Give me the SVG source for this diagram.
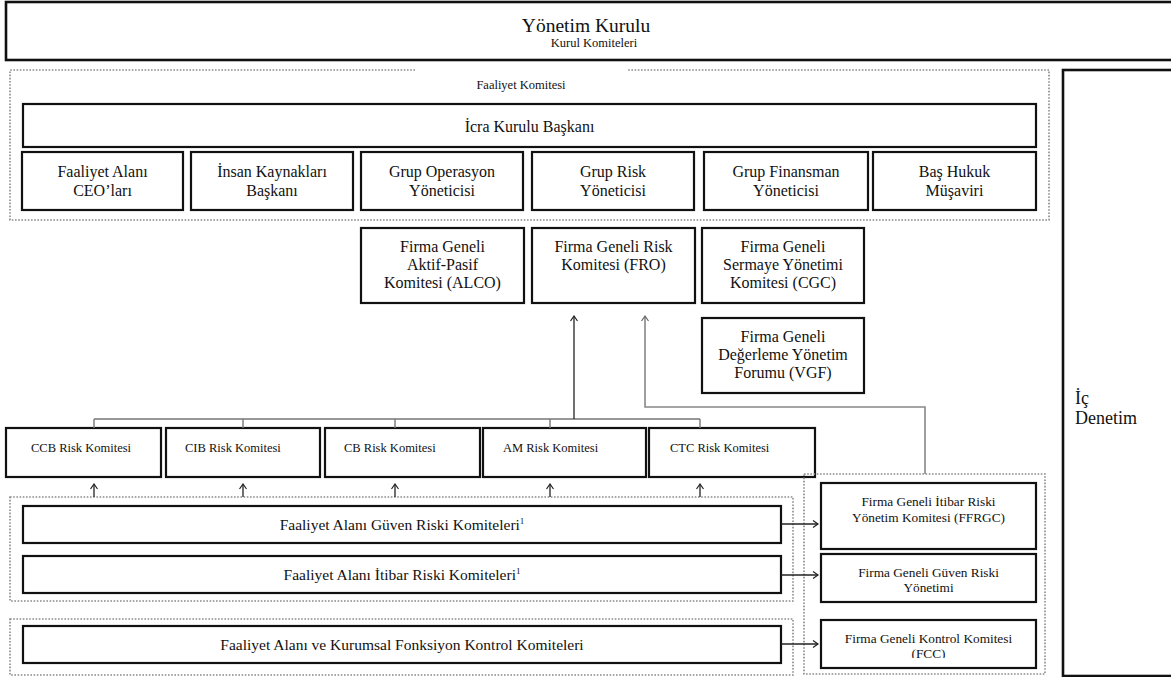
<svg xmlns="http://www.w3.org/2000/svg" width="1171" height="677" viewBox="0 0 1171 677">
<style>
text{font-family:"Liberation Serif","Times New Roman","DejaVu Serif",serif;fill:#111;}
.box{fill:#fff;stroke:#111;stroke-width:2.2;}
.big{stroke-width:2.6;}
.dot{fill:none;stroke:#8a8a8a;stroke-width:1.6;stroke-dasharray:1.6 1.6;}
.t16{font-size:16px;text-anchor:middle;}
.t13{font-size:13.3px;text-anchor:middle;}
.t12{font-size:12.5px;}
.con{fill:none;stroke:#222;stroke-width:1.3;}
.grey{fill:none;stroke:#888;stroke-width:1.6;}
.hl{fill:none;stroke:#777;stroke-width:1.4;}
</style>
<defs>
<marker id="ah" markerWidth="10" markerHeight="10" refX="6" refY="4" orient="auto" markerUnits="userSpaceOnUse">
<path d="M1,0.5 L6,4 L1,7.5" fill="none" stroke="#222" stroke-width="1.2"/>
</marker>
<marker id="ahg" markerWidth="10" markerHeight="10" refX="6" refY="4" orient="auto" markerUnits="userSpaceOnUse">
<path d="M1,0.5 L6,4 L1,7.5" fill="none" stroke="#666" stroke-width="1.2"/>
</marker>
<clipPath id="fccclip"><rect x="821" y="620" width="215" height="38"/></clipPath>
</defs>

<g id="yonetim-kurulu">
<rect class="box big" x="6" y="2" width="1180" height="58"/>
<text x="586" y="32" style="font-size:19.5px;text-anchor:middle">Yönetim Kurulu</text>
<text x="594" y="47" style="font-size:12.5px;text-anchor:middle">Kurul Komiteleri</text>
</g>

<g id="ic-denetim">
<rect class="box big" x="1063" y="70" width="120" height="606"/>
<text x="1075" y="404" style="font-size:18px">İç</text>
<text x="1075" y="424" style="font-size:18px">Denetim</text>
</g>

<g id="faaliyet-komitesi">
<path class="dot" d="M415,70 H10 V220 H1049 V70 H627"/>
<text x="521" y="89" style="font-size:12.5px;text-anchor:middle">Faaliyet Komitesi</text>
</g>

<g id="icra-kurulu-baskani">
<rect class="box" x="23" y="104" width="1013" height="43"/>
<text class="t16" x="529.5" y="132">İcra Kurulu Başkanı</text>
</g>

<g id="faaliyet-alani-ceo">
<rect class="box" x="22" y="152" width="161" height="58"/>
<text class="t16" x="102.5" y="177">Faaliyet Alanı</text>
<text class="t16" x="102.5" y="196">CEO’ları</text>
</g>
<g id="insan-kaynaklari">
<rect class="box" x="191" y="152" width="162" height="58"/>
<text class="t16" x="272" y="177">İnsan Kaynakları</text>
<text class="t16" x="272" y="196">Başkanı</text>
</g>
<g id="grup-operasyon">
<rect class="box" x="361" y="152" width="162" height="58"/>
<text class="t16" x="442" y="177">Grup Operasyon</text>
<text class="t16" x="442" y="196">Yöneticisi</text>
</g>
<g id="grup-risk">
<rect class="box" x="532" y="152" width="162" height="58"/>
<text class="t16" x="613" y="177">Grup Risk</text>
<text class="t16" x="613" y="196">Yöneticisi</text>
</g>
<g id="grup-finansman">
<rect class="box" x="704" y="152" width="164" height="58"/>
<text class="t16" x="786" y="177">Grup Finansman</text>
<text class="t16" x="786" y="196">Yöneticisi</text>
</g>
<g id="bas-hukuk">
<rect class="box" x="873" y="152" width="163" height="58"/>
<text class="t16" x="954.5" y="177">Baş Hukuk</text>
<text class="t16" x="954.5" y="196">Müşaviri</text>
</g>

<g id="alco">
<rect class="box" x="361" y="228" width="163" height="75"/>
<text class="t16" x="442.5" y="252">Firma Geneli</text>
<text class="t16" x="442.5" y="270">Aktif-Pasif</text>
<text class="t16" x="442.5" y="288">Komitesi (ALCO)</text>
</g>
<g id="fro">
<rect class="box" x="532" y="228" width="163" height="75"/>
<text class="t16" x="613.5" y="252">Firma Geneli Risk</text>
<text class="t16" x="613.5" y="270">Komitesi (FRO)</text>
</g>
<g id="cgc">
<rect class="box" x="702" y="228" width="162" height="75"/>
<text class="t16" x="783" y="252">Firma Geneli</text>
<text class="t16" x="783" y="270">Sermaye Yönetimi</text>
<text class="t16" x="783" y="288">Komitesi (CGC)</text>
</g>
<g id="vgf">
<rect class="box" x="702" y="318" width="162" height="75"/>
<text class="t16" x="783" y="342">Firma Geneli</text>
<text class="t16" x="783" y="360">Değerleme Yönetim</text>
<text class="t16" x="783" y="378">Forumu (VGF)</text>
</g>

<g id="ccb">
<rect class="box" x="6" y="428" width="155" height="49"/>
<text class="t12" x="31" y="452">CCB Risk Komitesi</text>
</g>
<g id="cib">
<rect class="box" x="166" y="428" width="154" height="49"/>
<text class="t12" x="185" y="452">CIB Risk Komitesi</text>
</g>
<g id="cb">
<rect class="box" x="325" y="428" width="155" height="49"/>
<text class="t12" x="344" y="452">CB Risk Komitesi</text>
</g>
<g id="am">
<rect class="box" x="483" y="428" width="163" height="49"/>
<text class="t12" x="503" y="452">AM Risk Komitesi</text>
</g>
<g id="ctc">
<rect class="box" x="649" y="428" width="166" height="49"/>
<text class="t12" x="670" y="452">CTC Risk Komitesi</text>
</g>

<g id="risk-komiteleri-grubu">
<rect class="dot" x="10" y="497" width="783" height="104"/>
</g>
<g id="guven-riski-komiteleri">
<rect class="box" x="23" y="506" width="758" height="37"/>
<text x="402" y="530" style="font-size:15.5px;text-anchor:middle">Faaliyet Alanı Güven Riski Komiteleri<tspan dy="-6" style="font-size:9px">1</tspan></text>
</g>
<g id="itibar-riski-komiteleri">
<rect class="box" x="23" y="556" width="758" height="37"/>
<text x="402" y="580" style="font-size:15.5px;text-anchor:middle">Faaliyet Alanı İtibar Riski Komiteleri<tspan dy="-6" style="font-size:9px">1</tspan></text>
</g>
<g id="kontrol-grubu">
<rect class="dot" x="10" y="619" width="783" height="56"/>
</g>
<g id="kontrol-komiteleri">
<rect class="box" x="23" y="626" width="758" height="37"/>
<text x="402" y="650" style="font-size:15.5px;text-anchor:middle">Faaliyet Alanı ve Kurumsal Fonksiyon Kontrol Komiteleri</text>
</g>

<g id="firma-geneli-grubu">
<rect class="dot" x="804" y="474" width="241" height="200"/>
</g>
<g id="ffrgc">
<rect class="box" x="821" y="483" width="215" height="66"/>
<text class="t13" x="928.5" y="506">Firma Geneli İtibar Riski</text>
<text class="t13" x="928.5" y="522">Yönetim Komitesi (FFRGC)</text>
</g>
<g id="guven-riski-yonetimi">
<rect class="box" x="821" y="554" width="215" height="48"/>
<text class="t13" x="928.5" y="577">Firma Geneli Güven Riski</text>
<text class="t13" x="928.5" y="592">Yönetimi</text>
</g>
<g id="fcc">
<rect class="box" x="821" y="620" width="215" height="48"/>
<g clip-path="url(#fccclip)">
<text class="t13" x="928.5" y="643">Firma Geneli Kontrol Komitesi</text>
<text class="t13" x="928.5" y="658">(FCC)</text>
</g>
</g>

<g id="connectors">
<path class="hl" d="M94,419 H700 M94,419 V428 M243,419 V428 M395,419 V428 M550,419 V428 M700,419 V428"/>
<path class="con" d="M574,419 V316" marker-end="url(#ah)"/>
<path class="grey" d="M925,474 V407 H645 V316" marker-end="url(#ahg)"/>
<path class="con" d="M94,497 V484" marker-end="url(#ah)"/>
<path class="con" d="M243,497 V484" marker-end="url(#ah)"/>
<path class="con" d="M395,497 V484" marker-end="url(#ah)"/>
<path class="con" d="M550,497 V484" marker-end="url(#ah)"/>
<path class="con" d="M700,497 V484" marker-end="url(#ah)"/>
<path class="con" d="M781,524 H818" marker-end="url(#ah)"/>
<path class="con" d="M781,575 H818" marker-end="url(#ah)"/>
<path class="con" d="M781,644 H818" marker-end="url(#ah)"/>
</g>
</svg>
